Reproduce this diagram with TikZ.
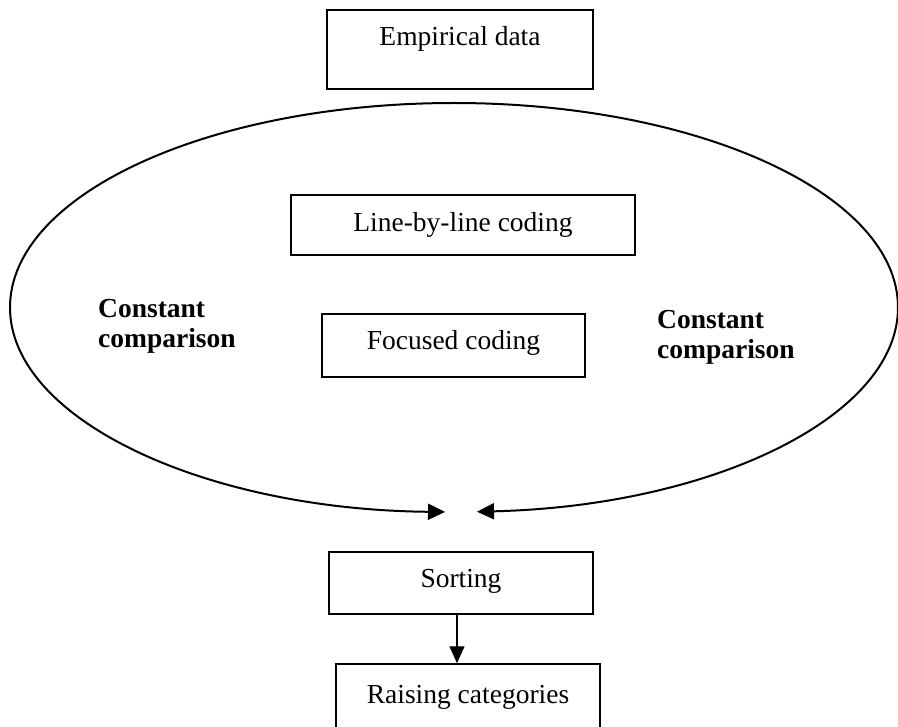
\documentclass[tikz,border=0pt]{standalone}
\usepackage{fontspec}
\setmainfont{Liberation Serif}
\usetikzlibrary{arrows.meta}
\begin{document}
\begin{tikzpicture}[x=1pt,y=1pt,
  box/.style={draw, line width=1.5pt, inner xsep=0pt, inner ysep=0pt, anchor=base,
              font=\fontsize{27.5}{30}\selectfont},
  lab/.style={font=\bfseries\fontsize{27.5}{30}\selectfont, align=left, inner sep=0pt, anchor=base west},
  arrowhd/.style={-{Triangle[length=17pt,width=16pt]}},
  ring/.style={line width=2pt, arrowhd},
]
\useasboundingbox (0,0) rectangle (898,-727);
\clip (0,0) rectangle (898,-727);

\node[box, minimum width=266pt, text height=36pt, text depth=43pt] (emp) at (460,-46) {Empirical data};
\node[box, minimum width=344pt, text height=37pt, text depth=23pt] (lbl) at (463,-232) {Line-by-line coding};
\node[box, minimum width=263pt, text height=36pt, text depth=27pt] (foc) at (453.5,-350) {Focused coding};
\node[box, minimum width=264pt, text height=35pt, text depth=27pt] (sort) at (461,-587) {Sorting};
\node[box, minimum width=264pt, text height=39pt, text depth=50pt] (rais) at (468,-703) {Raising categories};

\node[lab] (cl) at (98,-348) {Constant\\comparison};
\node[lab] (cr) at (657,-359) {Constant\\comparison};

\coordinate (etop) at (454,-103);
\draw[ring] (etop) arc[start angle=90, end angle=268.84, x radius=444pt, y radius=204.5pt];
\draw[ring] (etop) arc[start angle=90, end angle=-87.03, x radius=444pt, y radius=204.5pt];

\draw[line width=1.2pt, -{Triangle[length=17pt,width=15pt]}] ([xshift=-4pt]sort.south) -- ([xshift=-4pt]sort.south |- rais.north);
\end{tikzpicture}
\end{document}
